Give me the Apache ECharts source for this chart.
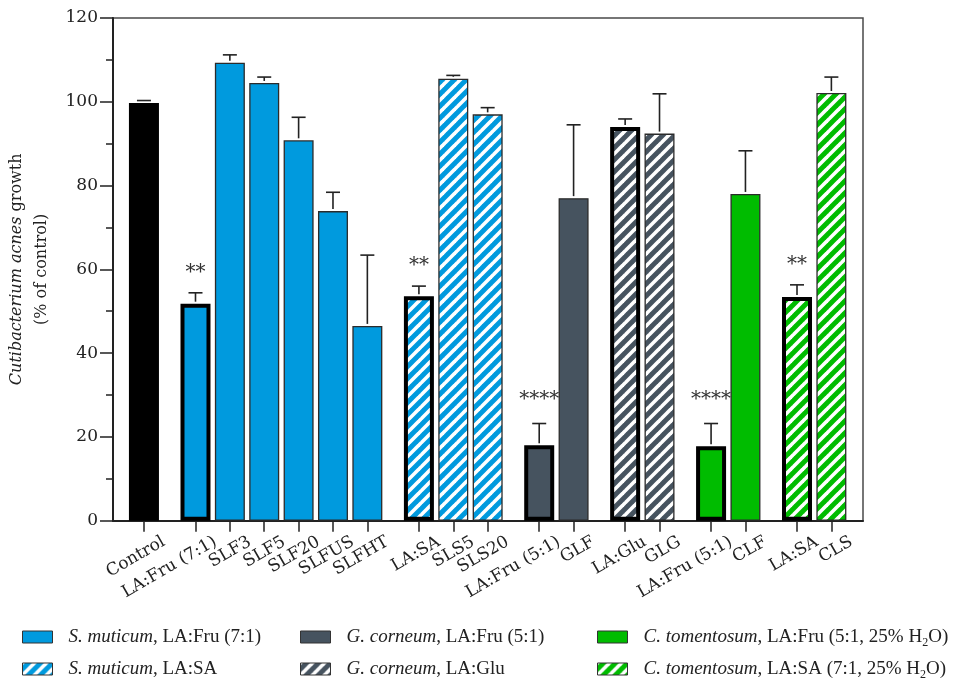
<!DOCTYPE html>
<html>
<head>
<meta charset="utf-8">
<script src="https://cdn.jsdelivr.net/npm/echarts@6/dist/echarts.min.js"></script>
<style>
  html, body { margin: 0; padding: 0; background: #fff; }
  #chart { width: 965px; height: 686px; }
</style>
</head>
<body>
<div id="chart"></div>
<script>
// Bar labels, left to right
const categories = ['Control', 'LA:Fru (7:1)', 'SLF3', 'SLF5', 'SLF20', 'SLFUS', 'SLFHT',
  'LA:SA', 'SLS5', 'SLS20', 'LA:Fru (5:1)', 'GLF', 'LA:Glu', 'GLG',
  'LA:Fru (5:1)', 'CLF', 'LA:SA', 'CLS'];
// Number of bars in each cluster (clusters are separated by a wider gap)
const groupSizes = [1, 6, 3, 2, 2, 2, 2];
// Growth, % of control
const growth = [99.7, 51.8, 109.3, 104.5, 90.8, 73.9, 46.5,
  53.6, 105.5, 97.0, 18.0, 77.0, 94.0, 92.4,
  17.8, 78.0, 53.4, 102.1];
// Upper error (SD)
const sdUp = [0.6, 2.6, 1.9, 1.4, 5.5, 4.5, 16.9,
  2.4, 0.8, 1.6, 5.2, 17.5, 1.9, 9.5,
  5.4, 10.3, 2.9, 3.8];
// Significance vs. control
const significance = ['', '**', '', '', '', '', '',
  '**', '', '', '****', '', '', '',
  '****', '', '**', ''];
// Extract bars drawn with a heavy outline
const outlined = [false, true, false, false, false, false, false,
  true, false, false, true, false, true, false,
  true, false, true, false];
// Legend entries (one per cluster after the control)
const species = ['S. muticum', 'S. muticum', 'G. corneum', 'G. corneum', 'C. tomentosum', 'C. tomentosum'];
const treatments = ['LA:Fru (7:1)', 'LA:SA', 'LA:Fru (5:1)', 'LA:Glu', 'LA:Fru (5:1, 25% H2O)', 'LA:SA (7:1, 25% H2O)'];

const BLUE = '#009ADE', GRAY = '#46535F', GREEN = '#00BC00';
const FONT = 'DejaVu Serif';
const LEGEND_FONT = 'Liberation Serif';

function hatch(color) {
  const s = 12;
  const c = document.createElement('canvas');
  c.width = s; c.height = s;
  const g = c.getContext('2d');
  g.fillStyle = color;
  g.fillRect(0, 0, s, s);
  g.strokeStyle = '#ffffff';
  g.lineWidth = 3.6;
  for (let k = -1; k <= 1; k++) {
    g.beginPath();
    g.moveTo(k * s - 1, s + 1);
    g.lineTo(k * s + s + 1, -1);
    g.stroke();
  }
  return { image: c, repeat: 'repeat' };
}

// x positions: step 1 inside a cluster, 1.5 between clusters, leaving a margin before the first bar
const leftPad = 0.9, rightPad = 0.92;
const positions = [];
const clusterOf = [];
let p = leftPad;
groupSizes.forEach((n, gi) => {
  for (let k = 0; k < n; k++) { positions.push(p); clusterOf.push(gi); p += 1; }
  p += 0.5;
});
const xMax = positions[positions.length - 1] + rightPad;
const labelShift = 0.58;
const labelPositions = positions.map(v => v + labelShift);

const fills = ['#000000', BLUE, hatch(BLUE), GRAY, hatch(GRAY), GREEN, hatch(GREEN)];
const names = ['Control'].concat(species.map((s, i) => s + ', ' + treatments[i]));
const richNames = {};
species.forEach((s, i) => {
  richNames[names[i + 1]] = '{i|' + s + '}, ' + treatments[i].replace('H2O', 'H{sub|2}O');
});

const barSeries = names.map((name, si) => ({
  name: name,
  type: 'bar',
  barWidth: 30,
  barGap: '-100%',
  itemStyle: { color: fills[si], borderColor: si === 0 ? '#000' : '#2b2b2b', borderWidth: 1.3 },
  emphasis: { disabled: true },
  data: positions.map((x, i) => ({ i, x })).filter(d => clusterOf[d.i] === si).map(d => ({
    value: [d.x, growth[d.i]],
    itemStyle: outlined[d.i] ? { borderColor: '#000', borderWidth: 4 } : undefined
  })),
  z: 2
}));

const errorSeries = {
  type: 'custom',
  name: 'sd',
  z: 4,
  silent: true,
  data: positions.map((x, i) => [x, growth[i], sdUp[i]]),
  renderItem: function (params, api) {
    const x = api.value(0), y = api.value(1), e = api.value(2);
    const base = api.coord([x, y]);
    const top = api.coord([x, y + e]);
    const stroke = { stroke: '#222', lineWidth: 1.6 };
    const children = [
      { type: 'line', shape: { x1: base[0], y1: base[1] - 2, x2: top[0], y2: top[1] }, style: stroke },
      { type: 'line', shape: { x1: top[0] - 7, y1: top[1], x2: top[0] + 7, y2: top[1] }, style: stroke }
    ];
    const sig = significance[params.dataIndex];
    if (sig) {
      children.push({
        type: 'text',
        style: { text: sig, x: top[0], y: top[1] - (sig.length > 2 ? 24 : 20), align: 'center', verticalAlign: 'middle',
          fontFamily: FONT, fontSize: 20, fill: '#333' }
      });
    }
    return { type: 'group', children: children };
  }
};

const legendText = {
  fontFamily: LEGEND_FONT, fontSize: 19, color: '#222', lineHeight: 24, padding: [0, 0, 0, 11],
  rich: {
    i: { fontFamily: LEGEND_FONT, fontSize: 19, fontStyle: 'italic', color: '#222', lineHeight: 24 },
    sub: { fontFamily: LEGEND_FONT, fontSize: 12, color: '#222', lineHeight: 12, verticalAlign: 'bottom' }
  }
};
function legendAt(left, items) {
  return {
    orient: 'vertical', left: left, top: 625, height: 90, itemGap: 8, padding: 0,
    itemWidth: 30, itemHeight: 12, icon: 'rect',
    itemStyle: { borderColor: '#333', borderWidth: 1 },
    textStyle: legendText,
    selectedMode: false,
    data: items,
    formatter: n => richNames[n] || n
  };
}

const chart = echarts.init(document.getElementById('chart'), null, { renderer: 'canvas' });
chart.setOption({
  animation: false,
  backgroundColor: '#fff',
  grid: { left: 113, top: 18, width: 750, height: 502.7, outerBoundsMode: 'none', containLabel: false,
    show: true, borderColor: '#4a4a4a', borderWidth: 1.5 },
  legend: [
    legendAt(22, [names[1], names[2]]),
    legendAt(300, [names[3], names[4]]),
    legendAt(597, [names[5], names[6]])
  ],
  xAxis: {
    type: 'value', min: 0, max: xMax,
    splitLine: { show: false },
    axisLine: { show: true, onZero: false, lineStyle: { color: '#222', width: 2 } },
    axisTick: { show: true, inside: false, length: 11, customValues: positions, lineStyle: { color: '#222', width: 1.5 } },
    axisLabel: {
      customValues: labelPositions, rotate: 30, margin: 20, lineHeight: 14,
      showMinLabel: true, showMaxLabel: true, hideOverlap: false,
      fontFamily: FONT, fontSize: 17, color: '#222',
      formatter: function (v) {
        let best = 0;
        labelPositions.forEach((lp, i) => { if (Math.abs(lp - v) < Math.abs(labelPositions[best] - v)) best = i; });
        return categories[best];
      }
    }
  },
  yAxis: {
    type: 'value', min: 0, max: 120, interval: 20,
    splitLine: { show: false },
    axisLine: { show: true, onZero: false, lineStyle: { color: '#222', width: 2 } },
    axisTick: { show: true, inside: false, length: 13, lineStyle: { color: '#222', width: 1.5 } },
    minorTick: { show: true, splitNumber: 2, length: 7, lineStyle: { color: '#222', width: 1.5 } },
    axisLabel: { margin: 15, fontFamily: FONT, fontSize: 17, color: '#222' },
    name: '{i|Cutibacterium acnes} growth\n(% of control)',
    nameLocation: 'middle', nameGap: 52,
    nameTextStyle: {
      fontFamily: FONT, fontSize: 16, color: '#222', lineHeight: 25,
      rich: { i: { fontFamily: FONT, fontSize: 16, fontStyle: 'italic', color: '#222', lineHeight: 25 } }
    }
  },
  series: barSeries.concat([errorSeries])
});
</script>
</body>
</html>
